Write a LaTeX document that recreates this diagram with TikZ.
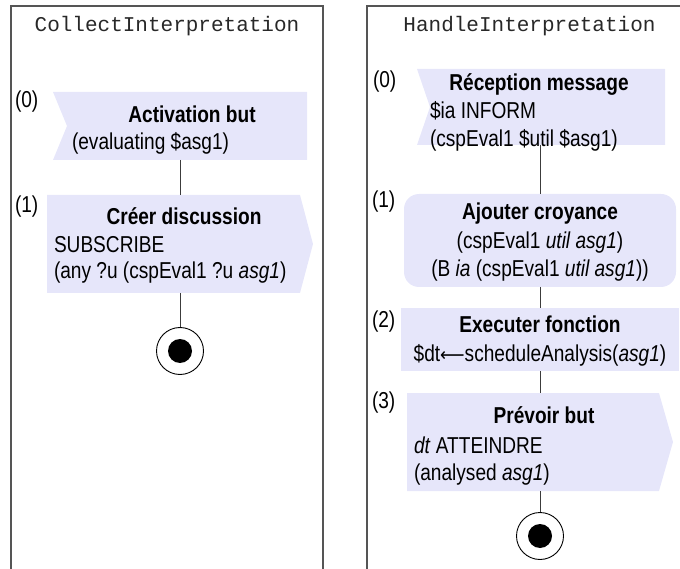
\documentclass[tikz,border=0pt]{standalone}
\usepackage{fontspec}
\setmainfont{Liberation Sans}[FakeStretch=0.83]
\newfontfamily\monof{Liberation Mono}
\newfontfamily\arrf{DejaVu Sans}[FakeStretch=0.9]
\usetikzlibrary{backgrounds}
\definecolor{boxfill}{RGB}{230,230,250}
\definecolor{framec}{RGB}{85,85,85}
\definecolor{linec}{RGB}{60,60,60}
\definecolor{titlec}{RGB}{40,40,40}
\tikzset{
  txt/.style={font=\fontsize{23}{27}\selectfont, inner sep=0pt, outer sep=0pt, text=black},
  hd/.style={txt, anchor=base, font=\fontsize{23}{27}\selectfont\bfseries},
  ln/.style={txt, anchor=base west},
  lc/.style={txt, anchor=base},
  area/.style={rectangle, inner sep=0pt, outer sep=0pt, draw=none},
  ttl/.style={anchor=base, inner sep=0pt, font=\monof\fontsize{21}{25}\selectfont, text=titlec},
  frame/.style={draw=framec, line width=1.4pt},
  conn/.style={draw=linec, line width=1pt},
  endst/.style={circle, draw=black, line width=0.9pt, minimum size=47pt, inner sep=0pt, fill=white,
    path picture={\fill[black] (path picture bounding box.center) circle (12pt);}},
}
\begin{document}
\begin{tikzpicture}[x=1pt,y=-1pt]
\useasboundingbox (0,0) rectangle (680,569);
% frames
\draw[frame] (11,569) -- (11,6) -- (323,6) -- (323,569);
\draw[frame] (367,569) -- (367,6) -- (680,6);
\node[ttl] (t1) at (167,32) {CollectInterpretation};
\node[ttl] (t2) at (529.5,32) {HandleInterpretation};

% ---------- left swimlane
\node[area, minimum width=254pt, minimum height=68pt] (l0) at (180,126) {};
\node[area, minimum width=266pt, minimum height=98pt] (l1) at (180,244) {};
\node[endst] (le) at (180,351) {};

\node[ln] (l0n) at (15,108) {(0)};
\node[hd] (l0a) at (192,123) {Activation but};
\node[ln] (l0b) at (72,150) {(evaluating \$asg1)};

\node[ln] (l1n) at (15,213) {(1)};
\node[hd] (l1a) at (184,225) {Créer discussion};
\node[ln] (l1b) at (54,253) {SUBSCRIBE};
\node[ln] (l1c) at (54,279) {(any ?u (cspEval1 ?u \textit{asg1})};

% ---------- right swimlane
\node[area, minimum width=248pt, minimum height=76pt] (r0) at (541,107) {};
\node[area, minimum width=272pt, minimum height=93pt] (r1) at (540,240.5) {};
\node[area, minimum width=278pt, minimum height=63pt] (r2) at (540,339.5) {};
\node[area, minimum width=266pt, minimum height=98pt] (r3) at (540,442) {};
\node[endst] (re) at (540,536) {};

\node[ln] (r0n) at (373,88) {(0)};
\node[hd] (r0a) at (539,91) {Réception message};
\node[ln] (r0b) at (430,119) {\$ia INFORM};
\node[ln] (r0c) at (430,147) {(cspEval1 \$util \$asg1)};

\node[ln] (r1n) at (372,208) {(1)};
\node[hd] (r1a) at (540,220) {Ajouter croyance};
\node[lc] (r1b) at (540,249) {(cspEval1 \textit{util asg1})};
\node[lc] (r1c) at (540,277) {(B \textit{ia} (cspEval1 \textit{util asg1}))};

\node[ln] (r2n) at (372,327) {(2)};
\node[hd] (r2a) at (540,332) {Executer fonction};
\node[lc] (r2b) at (540,361) {\$dt{\arrf\fontsize{19}{23}\selectfont ⟵}scheduleAnalysis(\textit{asg1})};

\node[ln] (r3n) at (372,408) {(3)};
\node[hd] (r3a) at (544,423) {Prévoir but};
\node[ln] (r3b) at (414,453) {\textit{dt} ATTEINDRE};
\node[ln] (r3c) at (414,480) {(analysed \textit{asg1})};

% ---------- shapes
\begin{scope}[on background layer]
\fill[boxfill] (l0.north west) -- (l0.north east) -- (l0.south east) -- (l0.south west) -- ([xshift=14pt]l0.west) -- cycle;
\fill[boxfill] (l1.north west) -- ([xshift=-13pt]l1.north east) -- (l1.east) -- ([xshift=-13pt]l1.south east) -- (l1.south west) -- cycle;
\fill[boxfill] (r0.north west) -- (r0.north east) -- (r0.south east) -- (r0.south west) -- ([xshift=13pt]r0.west) -- cycle;
\fill[boxfill, rounded corners=15pt] (r1.north west) rectangle (r1.south east);
\fill[boxfill] (r2.north west) rectangle (r2.south east);
\fill[boxfill] (r3.north west) -- ([xshift=-14pt]r3.north east) -- (r3.east) -- ([xshift=-14pt]r3.south east) -- (r3.south west) -- cycle;
\end{scope}

% ---------- connectors
\draw[conn] (l0.south) -- (l1.north);
\draw[conn] (l1.south) -- (le.north);
\draw[conn] (r0.south -| r1.north) -- (r1.north);
\draw[conn] (r1.south) -- (r2.north);
\draw[conn] (r2.south) -- (r3.north);
\draw[conn] (r3.south) -- (re.north);
\end{tikzpicture}
\end{document}
